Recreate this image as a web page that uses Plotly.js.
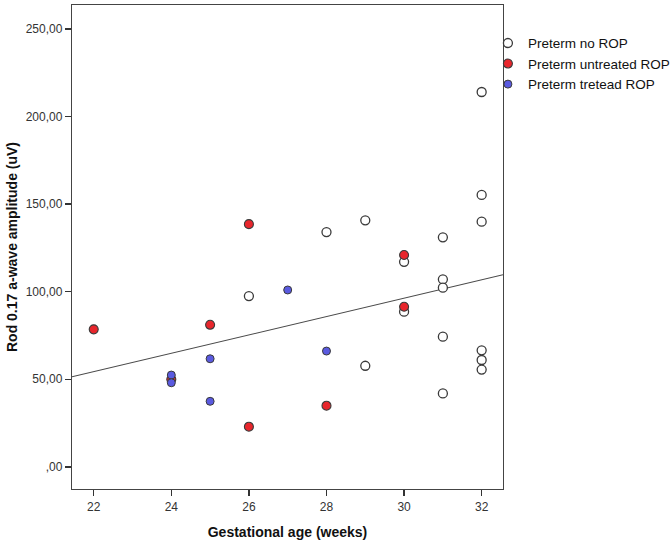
<!DOCTYPE html>
<html>
<head>
<meta charset="utf-8">
<script src="https://cdn.plot.ly/plotly-3.0.1.min.js"></script>
<style>html,body{margin:0;padding:0;background:#fff;}#chart{width:672px;height:544px;}</style>
</head>
<body>
<div id="chart"></div>
<script>
// Preterm no ROP
var noRopAge = [26, 28, 29, 29, 30, 30, 31, 31, 31, 31, 31, 32, 32, 32, 32, 32, 32];
var noRopAmp = [97.5, 134.1, 140.8, 57.7, 117.1, 88.6, 131.1, 107.1, 102.3, 74.3, 41.9, 214.1, 155.3, 140.0, 66.5, 61.0, 55.5];
// Preterm untreated ROP
var untreatedAge = [22, 24, 25, 26, 26, 28, 30, 30];
var untreatedAmp = [78.5, 50.0, 81.1, 138.6, 22.9, 34.9, 121.0, 91.4];
// Preterm treated ROP
var treatedAge = [24, 24, 25, 25, 27, 28];
var treatedAmp = [52.4, 48.0, 61.7, 37.4, 101.0, 66.1];
// Fit line
var fitAge = [21.44, 32.55];
var fitAmp = [51.4, 109.7];

var yTickVals = [0, 50, 100, 150, 200, 250];
var yTickText = [",00", "50,00", "100,00", "150,00", "200,00", "250,00"];
var xTickVals = [22, 24, 26, 28, 30, 32];
var xTickText = ["22", "24", "26", "28", "30", "32"];
var seriesNames = ["Preterm no ROP", "Preterm untreated ROP", "Preterm tretead ROP"];

var font = "Liberation Sans, Arial, sans-serif";
var edge = "#3a3a3a";

var traces = [
  {x: fitAge, y: fitAmp, mode: "lines", line: {color: "#4a4a4a", width: 1.1}, showlegend: false, hoverinfo: "skip"},
  {x: noRopAge, y: noRopAmp, mode: "markers", name: seriesNames[0],
   marker: {size: 9, color: "#ffffff", line: {color: edge, width: 1.3}}},
  {x: untreatedAge, y: untreatedAmp, mode: "markers", name: seriesNames[1],
   marker: {size: 9, color: "#e8262c", line: {color: edge, width: 1.1}}},
  {x: treatedAge, y: treatedAmp, mode: "markers", name: seriesNames[2],
   marker: {size: 8, color: "#5a5ae0", line: {color: edge, width: 1}}}
];

var layout = {
  width: 672, height: 544,
  margin: {l: 72, r: 169, t: 5, b: 55, pad: 0, autoexpand: false},
  paper_bgcolor: "#ffffff", plot_bgcolor: "#ffffff",
  font: {family: font, color: "#222"},
  showlegend: true,
  legend: {x: 0.965, xanchor: "left", y: 0.953, yanchor: "top", bgcolor: "rgba(0,0,0,0)",
           font: {size: 13.5, family: font, color: "#111"}, tracegroupgap: 0},
  xaxis: {range: [21.44, 32.55], tickvals: xTickVals, ticktext: xTickText, ticks: "outside", ticklen: 6,
          tickcolor: "#333", tickwidth: 1.5, showline: true, mirror: true, linecolor: "#444", linewidth: 1.2,
          showgrid: false, zeroline: false, tickfont: {size: 12, color: "#333", family: font},
          title: {text: "<b>Gestational age (weeks)</b>", font: {size: 14, color: "#111", family: font}, standoff: 14}},
  yaxis: {range: [-12.7, 263.8], tickvals: yTickVals, ticktext: yTickText, ticks: "outside", ticklen: 6,
          tickcolor: "#333", tickwidth: 1.5, showline: true, mirror: true, linecolor: "#444", linewidth: 1.2,
          showgrid: false, zeroline: false, tickfont: {size: 12, color: "#333", family: font},
          title: {text: "<b>Rod 0.17 a-wave amplitude (uV)</b>", font: {size: 14, color: "#111", family: font}, standoff: 4}}
};

Plotly.newPlot("chart", traces, layout, {displayModeBar: false, staticPlot: true});
</script>
</body>
</html>
